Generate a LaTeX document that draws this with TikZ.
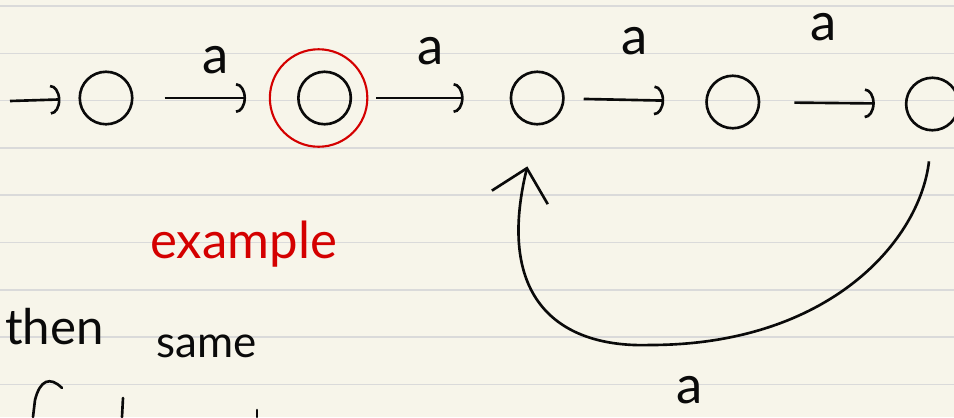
\documentclass[tikz,border=0pt]{standalone}
\usepackage{fontspec}
\setmainfont{Lato}
\usepackage{xcolor}
\usetikzlibrary{arrows.meta, positioning}

\definecolor{paper}{HTML}{F7F5EA}
\definecolor{ruling}{HTML}{DADADA}
\definecolor{pen}{HTML}{0A0A0A}
\definecolor{redpen}{HTML}{D40000}

\begin{document}
\begin{tikzpicture}[
    x=0.02cm, y=-0.02cm,
    node distance=3cm,
    state/.style={draw=pen, circle, line width=1.5pt, minimum size=1.05cm, inner sep=0pt},
    ring/.style={draw=redpen, circle, line width=1.2pt, minimum size=1.95cm, inner sep=0pt},
    arr/.style={-{Arc Barb[length=2mm, width=6mm]}, line width=1.5pt, draw=pen, shorten <=0.5cm, shorten >=0.85cm},
    back/.style={-{Straight Barb[length=6mm, width=11.5mm]}, line width=1.5pt, draw=pen},
    lbl/.style={font=\fontsize{30}{30}\selectfont, text=pen, inner sep=0pt},
    note/.style={font=\fontsize{26}{26}\selectfont, text=pen, inner sep=0pt},
    ink/.style={draw=pen, line width=1.5pt, line cap=round}
  ]
    % paper and ruling
    \fill[paper] (0,0) rectangle (954,417);
    \useasboundingbox (0,0) rectangle (954,417);
    \clip (0,0) rectangle (954,417);
    \foreach \k in {0,...,8}
      \draw[ruling, line width=0.9pt] (0,{6+47.3*\k}) -- (954,{6+47.3*\k});

    % states
    \node[state] (q0) at (106,98) {};
    \node[state, right=3.27cm of q0] (q1) {};
    \node[ring, xshift=-0.12cm] (acc) at (q1) {};
    \node[state, right=3.15cm of q1] (q2) {};
    \node[state, right=2.81cm of q2, yshift=-0.08cm] (q3) {};
    \node[state, right=2.89cm of q3, yshift=-0.04cm] (q4) {};

    % transitions
    \coordinate (init) at (10,101);
    \draw[arr, shorten <=0pt, shorten >=0.36cm] (init) -- (q0);
    \draw[arr, shorten <=0.62cm, shorten >=1.02cm] (q0) -- node[lbl, above=0.46cm] (a1) {a} (q1);
    \draw[arr, shorten <=0.48cm, shorten >=0.92cm] (q1) -- node[lbl, above=0.64cm] (a2) {a} (q2);
    \draw[arr, shorten <=0.38cm, shorten >=0.82cm] (q2) -- node[lbl, above=0.88cm] (a3) {a} (q3);
    \draw[arr, shorten <=0.68cm, shorten >=0.6cm] (q3) -- node[lbl, above=1.22cm, xshift=-0.18cm] (a4) {a} (q4);
    \draw[back, shorten <=0.6cm, shorten >=0.84cm] (q4.south)
      .. controls (920,240) and (830,345) .. (650,345)
      .. controls (560,348) and (495,300) .. (q2.south);
    \node[lbl] (a5) at (690,390) {a};

    % notes
    \node[note, text=redpen, font=\fontsize{29}{29}\selectfont, anchor=base west] (ex) at (150,258) {example};
    \node[note, font=\fontsize{28}{28}\selectfont, anchor=base east] (then) at (104,344) {then};
    \node[note, font=\fontsize{25}{25}\selectfont, anchor=base west] (same) at (156,357) {same};

    % next line, cut off
    \draw[ink] (62,388) .. controls (50,376) and (40,380) .. (35,400) -- (33,417);
    \draw[ink] (123,398) -- (122,417);
    \draw[ink] (257,410) -- (257,417);
  \end{tikzpicture}
\end{document}
